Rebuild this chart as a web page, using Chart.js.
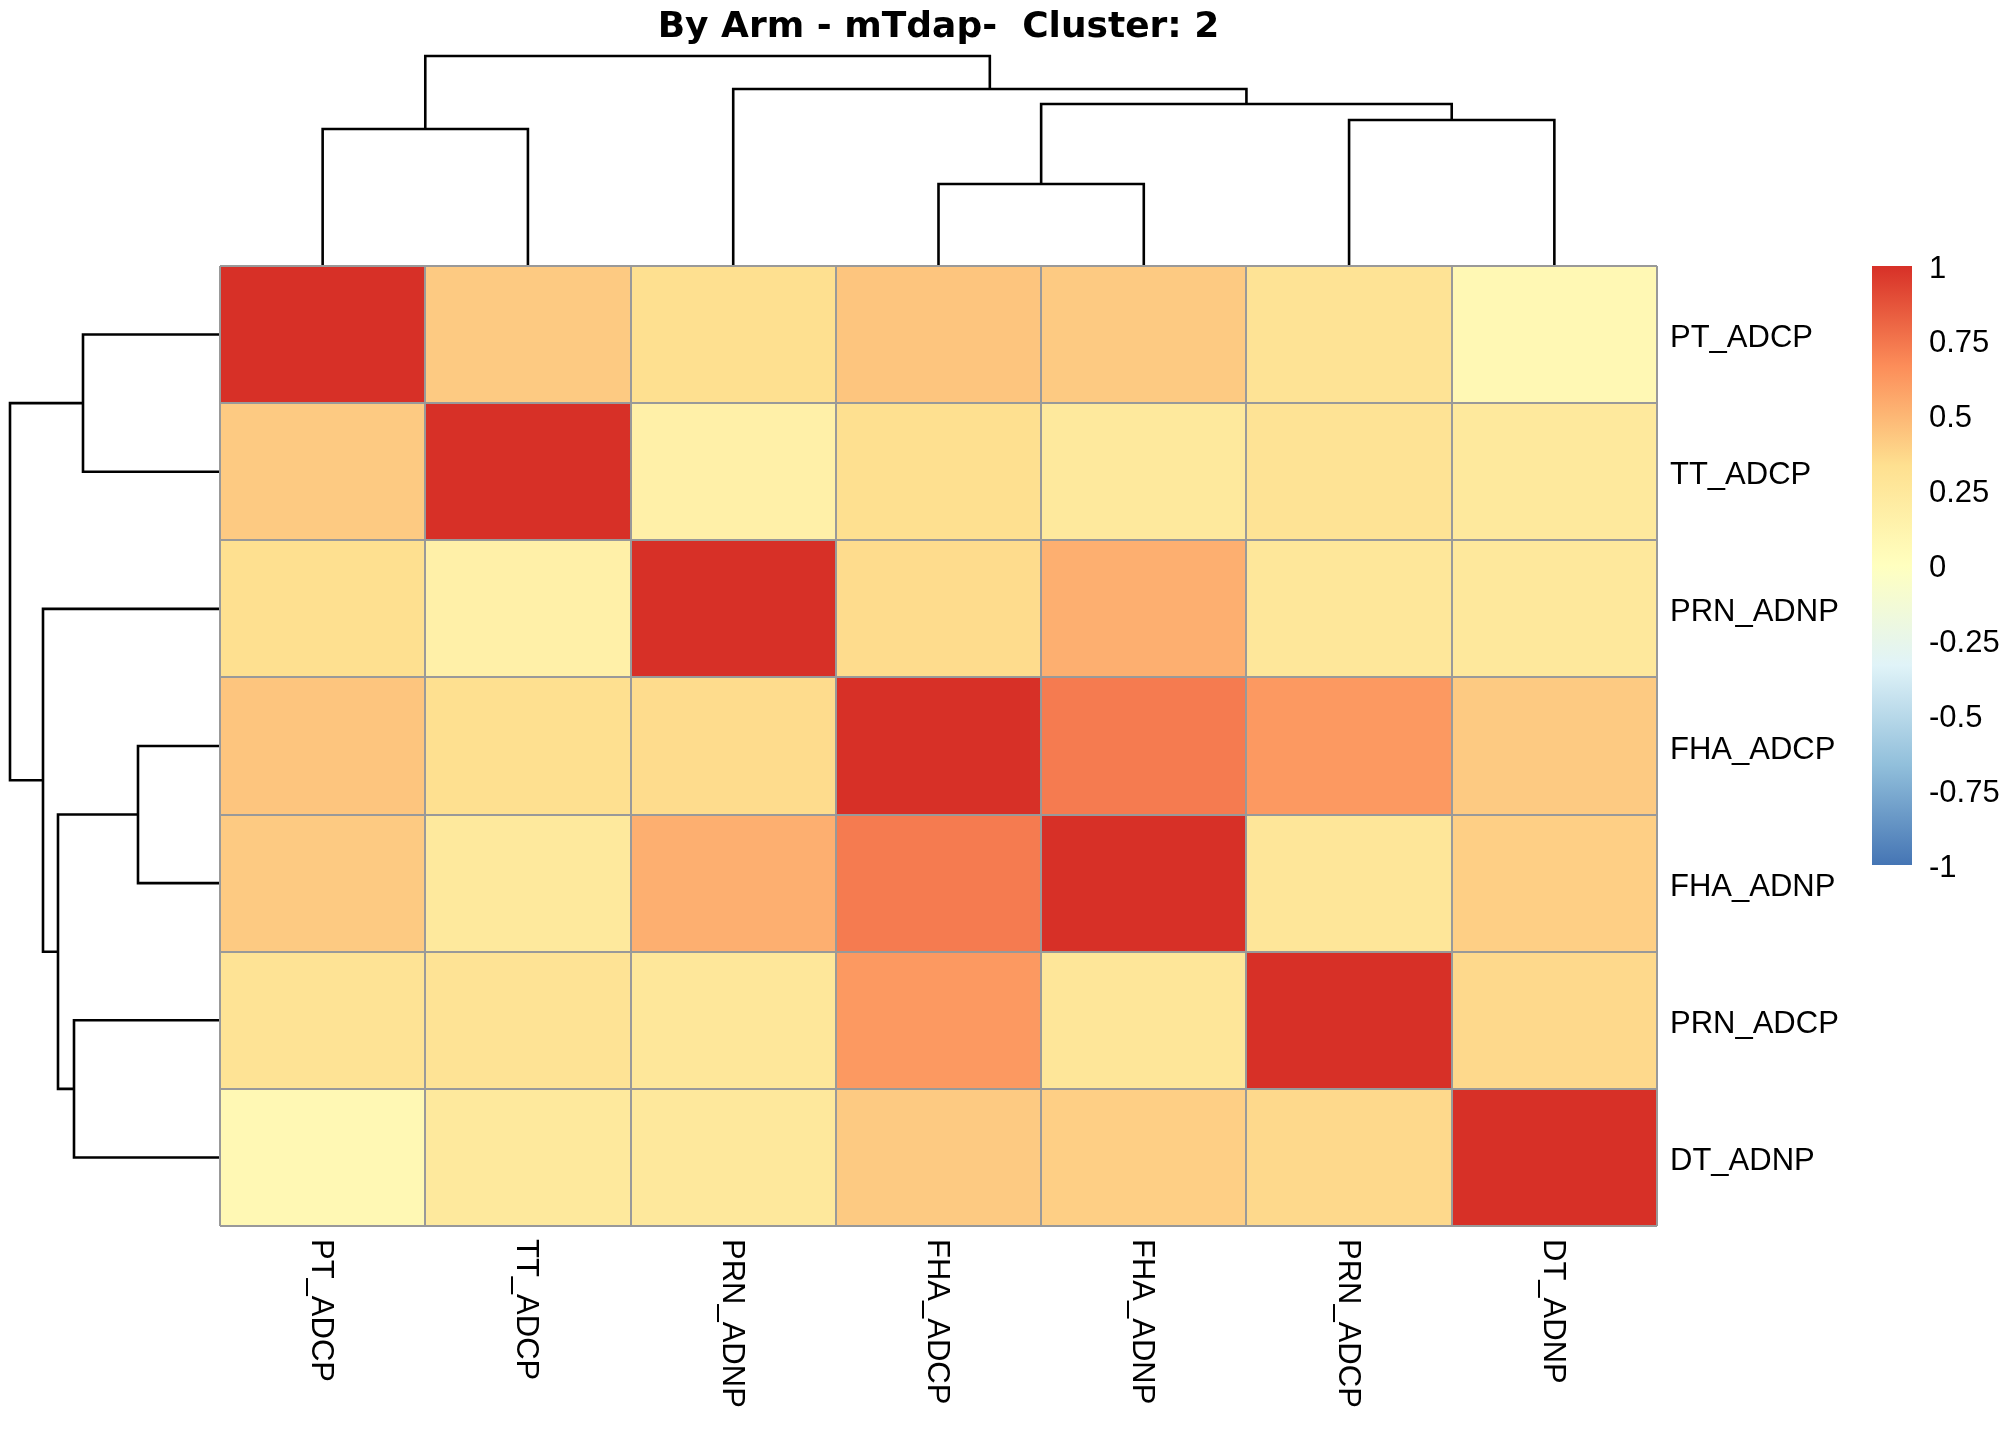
<!DOCTYPE html>
<html>
<head>
<meta charset="utf-8">
<title>By Arm - mTdap- Cluster: 2</title>
<script src="https://cdn.jsdelivr.net/npm/chart.js@4.4.1/dist/chart.umd.min.js"></script>
<style>
  html, body { margin: 0; padding: 0; background: #fff; }
  #wrap { width: 2016px; height: 1440px; }
</style>
</head>
<body>
<div id="wrap"><canvas id="heat" width="2016" height="1440"></canvas></div>
<script>
// rows and columns share the clustered order
const markers = ['PT_ADCP', 'TT_ADCP', 'PRN_ADNP', 'FHA_ADCP', 'FHA_ADNP', 'PRN_ADCP', 'DT_ADNP'];

// correlation rows (same order as markers)
const corPT   = [1.00, 0.42, 0.33, 0.44, 0.42, 0.30, 0.08];
const corTT   = [0.42, 1.00, 0.16, 0.33, 0.24, 0.30, 0.24];
const corPRNn = [0.33, 0.16, 1.00, 0.35, 0.53, 0.26, 0.25];
const corFHAc = [0.44, 0.33, 0.35, 1.00, 0.73, 0.62, 0.42];
const corFHAn = [0.42, 0.24, 0.53, 0.73, 1.00, 0.27, 0.40];
const corPRNc = [0.30, 0.30, 0.26, 0.62, 0.27, 1.00, 0.36];
const corDT   = [0.08, 0.24, 0.25, 0.42, 0.40, 0.36, 1.00];
const corRows = [corPT, corTT, corPRNn, corFHAc, corFHAn, corPRNc, corDT];

// hclust style merges: negative = leaf (1-based), positive = earlier merge
const mergeLeft   = [-4, -1, -6, 1, -3, 2];
const mergeRight  = [-5, -2, -7, 3, 4, 5];
const mergeHeight = [0.82, 1.37, 1.46, 1.62, 1.77, 2.10];

const legendTicks = [-1, -0.75, -0.5, -0.25, 0, 0.25, 0.5, 0.75, 1];
const palette = ['#4575B4', '#91BFDB', '#E0F3F8', '#FFFFBF', '#FEE090', '#FC8D59', '#D73027'];

// layout (px)
const plotW = 1437, plotH = 960, treePx = 210, keyTop = 266, keyBottom = 865, plotTop = 266;
const labelFont = { family: '"Liberation Sans", Arial, sans-serif', size: 31 };

function hexRgb(h) {
  return [1, 3, 5].map((i) => parseInt(h.slice(i, i + 2), 16));
}

function colorFor(v) {
  const t = Math.max(0, Math.min(1, (v + 1) / 2)) * (palette.length - 1);
  const i = Math.min(Math.floor(t), palette.length - 2);
  const f = t - i;
  const a = hexRgb(palette[i]), b = hexRgb(palette[i + 1]);
  const c = a.map((x, k) => Math.round(x + (b[k] - x) * f));
  return `rgb(${c[0]},${c[1]},${c[2]})`;
}

function treeLinks() {
  const pos = [], hgt = [];
  const node = (ref) => (ref < 0 ? { p: -ref - 0.5, h: 0 } : { p: pos[ref - 1], h: hgt[ref - 1] });
  return mergeLeft.map((l, k) => {
    const a = node(l), b = node(mergeRight[k]), h = mergeHeight[k];
    pos[k] = (a.p + b.p) / 2;
    hgt[k] = h;
    return [[a.p, a.h], [a.p, h], [b.p, h], [b.p, b.h]];
  });
}

const rootH = Math.max(...mergeHeight);
const links = treeLinks();
const treeStyle = { type: 'line', borderColor: '#000', borderWidth: 2.6, pointRadius: 0, fill: false, tension: 0, clip: false };

const cellSets = corRows.map((row, r) => ({
  type: 'bar',
  data: row.map(() => [r, r + 1]),
  backgroundColor: row.map(colorFor),
  borderWidth: 0,
  grouped: false,
  barPercentage: 1,
  categoryPercentage: 1,
  xAxisID: 'x',
  yAxisID: 'y',
}));

const colTree = links.map((l) => ({ ...treeStyle, data: l.map(([p, h]) => ({ x: p, y: h })), xAxisID: 'xTree', yAxisID: 'yTree' }));
const rowTree = links.map((l) => ({ ...treeStyle, data: l.map(([p, h]) => ({ x: h, y: p })), xAxisID: 'xTreeRow', yAxisID: 'y' }));

const keyBar = {
  id: 'keyBar',
  beforeDatasetsDraw(chart) {
    const s = chart.scales.yKey, ctx = chart.ctx;
    const top = s.getPixelForValue(1), bot = s.getPixelForValue(-1);
    const g = ctx.createLinearGradient(0, bot, 0, top);
    palette.forEach((c, i) => g.addColorStop(i / (palette.length - 1), c));
    ctx.save();
    ctx.fillStyle = g;
    ctx.fillRect(s.left, top, 40, bot - top);
    ctx.restore();
  },
};

const colNames = {
  id: 'colNames',
  afterDraw(chart) {
    const ctx = chart.ctx, x = chart.scales.x, y0 = chart.chartArea.bottom + 13;
    ctx.save();
    ctx.font = `${labelFont.size}px ${labelFont.family}`;
    ctx.fillStyle = '#000';
    ctx.textAlign = 'left';
    ctx.textBaseline = 'middle';
    markers.forEach((name, i) => {
      ctx.save();
      ctx.translate(x.getPixelForValue(i) - 2, y0);
      ctx.rotate(Math.PI / 2);
      ctx.fillText(name, 0, 0);
      ctx.restore();
    });
    ctx.restore();
  },
};

const gridStyle = { color: '#999999', lineWidth: 2, drawTicks: false, z: 1 };

new Chart(document.getElementById('heat'), {
  type: 'bar',
  data: { labels: markers, datasets: [...cellSets, ...colTree, ...rowTree] },
  options: {
    responsive: false,
    devicePixelRatio: 1,
    animation: false,
    events: [],
    layout: { padding: { left: 220, top: 0, right: 0, bottom: 214 } },
    plugins: {
      legend: { display: false },
      tooltip: { enabled: false },
      title: {
        display: true,
        text: 'By Arm - mTdap-  Cluster: 2',
        color: '#000',
        fullSize: false,
        font: { family: '"DejaVu Sans", sans-serif', size: 36, weight: 'bold' },
        padding: { top: 6, bottom: plotTop - 6 - 43.2 },
      },
    },
    scales: {
      x: { type: 'category', offset: true, grid: { ...gridStyle, offset: true }, border: { display: false }, ticks: { display: false } },
      y: { type: 'linear', min: 0, max: 7, reverse: true, grid: gridStyle, border: { display: false }, ticks: { display: false, stepSize: 1 } },
      yNames: {
        type: 'category', position: 'right', weight: 1, labels: markers, offset: true,
        grid: { display: false, drawTicks: false }, border: { display: false },
        ticks: { font: labelFont, color: '#000', padding: 13, autoSkip: false, labelOffset: 4 },
        afterFit: (s) => { s.width = 215; },
      },
      yKey: {
        type: 'linear', position: 'right', weight: 2, max: 1, min: 1 - 2 * plotH / (keyBottom - keyTop),
        grid: { display: false, drawTicks: false }, border: { display: false },
        ticks: { font: labelFont, color: '#000', padding: 57, autoSkip: false, labelOffset: 3, callback: (v) => String(v) },
        afterBuildTicks: (s) => { s.ticks = legendTicks.map((v) => ({ value: v })); },
        afterFit: (s) => { s.width = 144; },
      },
      xTree: { type: 'linear', display: false, offset: false, min: 0, max: 7 },
      yTree: { type: 'linear', display: false, offset: false, min: -rootH * plotH / treePx, max: 0 },
      xTreeRow: { type: 'linear', display: false, offset: false, reverse: true, min: -rootH * plotW / treePx, max: 0 },
    },
  },
  plugins: [keyBar, colNames],
});
</script>
</body>
</html>
